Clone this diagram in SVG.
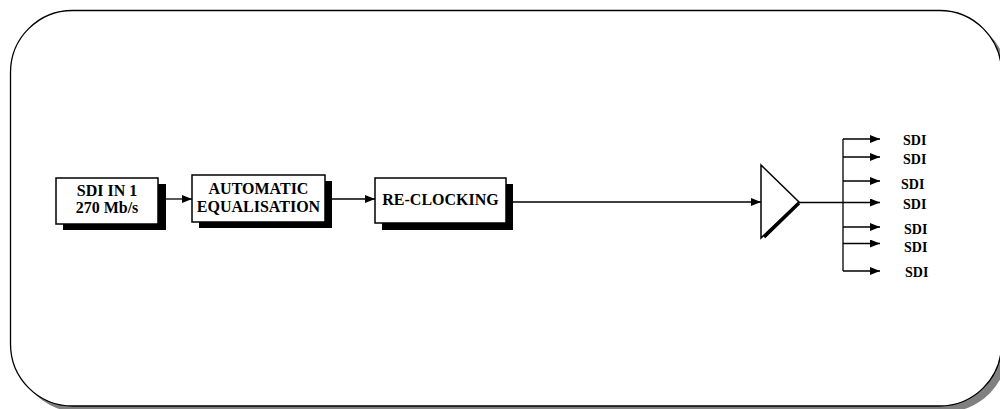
<svg xmlns="http://www.w3.org/2000/svg" width="1000" height="409" viewBox="0 0 1000 409">
<defs>
<style>
.box{fill:#fff;stroke:#000;stroke-width:1.5}
.sh{fill:#000}
.t{font-family:"Liberation Serif","Times New Roman",serif;font-weight:bold;font-size:16px;fill:#000;text-anchor:middle}
.s{font-family:"Liberation Serif","Times New Roman",serif;font-weight:bold;font-size:14px;fill:#000}
.ln{stroke:#000;stroke-width:1.3;fill:none}
</style>
<marker id="ah" markerWidth="10" markerHeight="8" refX="10" refY="4" orient="auto" markerUnits="userSpaceOnUse">
<path d="M0,0 L10,4 L0,8 Z" fill="#000"/>
</marker>
</defs>
<rect width="1000" height="409" fill="#fff"/>
<g id="frame">
<rect x="16.5" y="16.5" width="991" height="395.5" rx="62" ry="62" fill="#808080"/>
<rect x="10.5" y="10.5" width="991" height="395.5" rx="62" ry="62" fill="#fff" stroke="#000" stroke-width="1.3"/>
</g>
<g id="sdi-in">
<rect class="sh" x="63" y="184" width="103" height="46"/>
<rect class="box" x="56" y="178" width="102" height="46"/>
<text class="t" x="107" y="196">SDI IN 1</text>
<text class="t" x="107" y="213">270 Mb/s</text>
</g>
<g id="equalisation">
<rect class="sh" x="199" y="181" width="133" height="47"/>
<rect class="box" x="192" y="175" width="133" height="47"/>
<text class="t" x="258.5" y="194">AUTOMATIC</text>
<text class="t" x="258.5" y="211.5">EQUALISATION</text>
</g>
<g id="reclocking">
<rect class="sh" x="382" y="184" width="131" height="46"/>
<rect class="box" x="375" y="178" width="131" height="45"/>
<text class="t" x="440.5" y="205">RE-CLOCKING</text>
</g>
<g id="amplifier">
<polygon points="761,165 799,202 761,238" fill="#fff" stroke="#000" stroke-width="1.5"/>
<line x1="764" y1="237" x2="799" y2="203" stroke="#000" stroke-width="3.5"/>
</g>
<g id="outputs">
<text class="s" x="903" y="145">SDI</text>
<text class="s" x="903" y="164">SDI</text>
<text class="s" x="901" y="189">SDI</text>
<text class="s" x="903" y="209">SDI</text>
<text class="s" x="904" y="234">SDI</text>
<text class="s" x="904" y="252">SDI</text>
<text class="s" x="905" y="277">SDI</text>
</g>
<g id="connectors">
<line class="ln" x1="166" y1="199" x2="192" y2="199" marker-end="url(#ah)"/>
<line class="ln" x1="332" y1="199" x2="375" y2="199" marker-end="url(#ah)"/>
<line class="ln" x1="513" y1="202" x2="761" y2="202" marker-end="url(#ah)"/>
<line class="ln" x1="799" y1="202.5" x2="843" y2="202.5"/>
<line class="ln" x1="843" y1="139" x2="843" y2="271"/>
<line class="ln" x1="843" y1="139" x2="880" y2="139" marker-end="url(#ah)"/>
<line class="ln" x1="843" y1="157" x2="880" y2="157" marker-end="url(#ah)"/>
<line class="ln" x1="843" y1="181" x2="880" y2="181" marker-end="url(#ah)"/>
<line class="ln" x1="843" y1="202.5" x2="880" y2="202.5" marker-end="url(#ah)"/>
<line class="ln" x1="843" y1="227" x2="880" y2="227" marker-end="url(#ah)"/>
<line class="ln" x1="843" y1="243.5" x2="880" y2="243.5" marker-end="url(#ah)"/>
<line class="ln" x1="843" y1="271" x2="880" y2="271" marker-end="url(#ah)"/>
</g>
</svg>
